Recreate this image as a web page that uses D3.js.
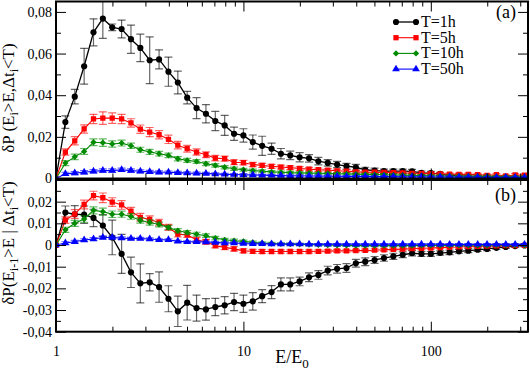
<!DOCTYPE html>
<html>
<head>
<meta charset="utf-8">
<script src="https://cdn.jsdelivr.net/npm/d3@7"></script>
<style>
  body { margin: 0; background: #fff; }
  svg { display: block; }
</style>
</head>
<body>
<div id="chart"></div>
<script>
// E/E0 bin centres (20 per decade)
const energy = [1, 1.122, 1.259, 1.413, 1.585, 1.778, 1.995, 2.239, 2.512, 2.818,
  3.162, 3.548, 3.981, 4.467, 5.012, 5.623, 6.310, 7.079, 7.943, 8.913,
  10, 11.22, 12.59, 14.13, 15.85, 17.78, 19.95, 22.39, 25.12, 28.18,
  31.62, 35.48, 39.81, 44.67, 50.12, 56.23, 63.10, 70.79, 79.43, 89.13,
  100, 112.2, 125.9, 141.3, 158.5, 177.8, 199.5, 223.9, 251.2, 281.8, 316.2];

const seriesNames = ["T=1h", "T=5h", "T=10h", "T=50h"];
const colors = ["#000000", "#ff0000", "#008b00", "#0000ff"];
const symbols = ["circle", "square", "diamond", "triangle"];

// panel (a)
const topT1 = [0, 0.0271, 0.0393, 0.0539, 0.0702, 0.0768, 0.0726, 0.0718, 0.0669, 0.0627,
  0.0568, 0.0572, 0.0513, 0.0461, 0.0388, 0.0338, 0.0311, 0.0276, 0.0255, 0.0215,
  0.0207, 0.0175, 0.0157, 0.0143, 0.0119, 0.0111, 0.0102, 0.0097, 0.0083, 0.0075,
  0.0067, 0.0059, 0.0054, 0.0042, 0.0038, 0.0035, 0.0035, 0.0035, 0.0034, 0.0027,
  0.0026, 0.0022, 0.0014, 0.0014, 0.001, 0.001, 0.001, 0.0006, 0.0004, 0.0003, 0.0002];
const topT1Err = [0, 0.003, 0.0035, 0.0086, 0.0065, 0.0095, 0.0016, 0.0043, 0.0068, 0.0066,
  0.0112, 0.0046, 0.007, 0.0055, 0.003, 0.005, 0.0044, 0.0046, 0.0048, 0.0032,
  0.0032, 0.0034, 0.0046, 0.0027, 0.0025, 0.002, 0.0022, 0.0018, 0.0018, 0.0016,
  0.0015, 0.0014, 0.0014, 0.0012, 0.0012, 0.001, 0.001, 0.001, 0.001, 0.0009,
  0.0008, 0.0008, 0.0007, 0.0007, 0.0006, 0.0006, 0.0005, 0.0005, 0.0005, 0.0004, 0.0004];
const topT5 = [0, 0.0127, 0.0181, 0.0238, 0.0286, 0.029, 0.029, 0.0286, 0.0267, 0.0237,
  0.0223, 0.021, 0.0188, 0.016, 0.0143, 0.0127, 0.0114, 0.0098, 0.0095, 0.0078,
  0.0076, 0.0067, 0.0063, 0.0058, 0.0055, 0.0052, 0.0048, 0.0045, 0.0042, 0.004,
  0.0037, 0.0035, 0.0032, 0.003, 0.003, 0.0029, 0.0028, 0.0027, 0.0025, 0.0024,
  0.0023, 0.0022, 0.0021, 0.002, 0.002, 0.0019, 0.0015, 0.0018, 0.0012, 0.0017, 0.0016];
const topT5Err = [0, 0.0015, 0.002, 0.002, 0.0022, 0.003, 0.0025, 0.0022, 0.002, 0.002,
  0.0022, 0.002, 0.002, 0.0018, 0.0016, 0.0015, 0.0014, 0.0013, 0.0012, 0.0012,
  0.0011, 0.001, 0.001, 0.001, 0.0009, 0.0009, 0.0009, 0.0008, 0.0008, 0.0008,
  0.0008, 0.0007, 0.0007, 0.0007, 0.0007, 0.0006, 0.0006, 0.0006, 0.0006, 0.0006,
  0.0006, 0.0006, 0.0006, 0.0006, 0.0006, 0.0006, 0.0006, 0.0006, 0.0006, 0.0006, 0.0006];
const topT10 = [0, 0.0074, 0.0104, 0.013, 0.0174, 0.0172, 0.0166, 0.017, 0.0157, 0.0138,
  0.0128, 0.0119, 0.0111, 0.0095, 0.0087, 0.0082, 0.0071, 0.0063, 0.0054, 0.0047,
  0.0042, 0.0038, 0.0035, 0.0032, 0.003, 0.0028, 0.0027, 0.0026, 0.0025, 0.0024,
  0.0023, 0.0022, 0.0021, 0.002, 0.0019, 0.0018, 0.0017, 0.0016, 0.0015, 0.0014,
  0.0013, 0.0012, 0.0012, 0.0011, 0.0011, 0.001, 0.001, 0.0009, 0.0009, 0.0008, 0.0008];
const topT10Err = [0, 0.0012, 0.0013, 0.0014, 0.0016, 0.0018, 0.0015, 0.0014, 0.0013, 0.0012,
  0.0012, 0.0011, 0.0011, 0.001, 0.001, 0.0009, 0.0009, 0.0008, 0.0008, 0.0008,
  0.0007, 0.0007, 0.0007, 0.0006, 0.0006, 0.0006, 0.0006, 0.0005, 0.0005, 0.0005,
  0.0005, 0.0005, 0.0005, 0.0005, 0.0005, 0.0005, 0.0005, 0.0005, 0.0005, 0.0005,
  0.0005, 0.0005, 0.0005, 0.0005, 0.0005, 0.0005, 0.0005, 0.0005, 0.0005, 0.0005, 0.0005];
const topT50 = [0, 0.0023, 0.0026, 0.003, 0.0035, 0.0038, 0.0038, 0.0042, 0.0038, 0.0035,
  0.0032, 0.003, 0.003, 0.0028, 0.0026, 0.0025, 0.0024, 0.0022, 0.002, 0.0019,
  0.0018, 0.0017, 0.0016, 0.0015, 0.0014, 0.0013, 0.0013, 0.0012, 0.0012, 0.0011,
  0.0011, 0.001, 0.001, 0.001, 0.0009, 0.0009, 0.0009, 0.0008, 0.0008, 0.0008,
  0.0007, 0.0007, 0.0007, 0.0006, 0.0006, 0.0006, 0.0005, 0.0005, 0.0005, 0.0005, 0.0005];
const topT50Err = [0, 0.0007, 0.0007, 0.0008, 0.0008, 0.0008, 0.0008, 0.0008, 0.0008, 0.0007,
  0.0007, 0.0007, 0.0006, 0.0006, 0.0006, 0.0006, 0.0005, 0.0005, 0.0005, 0.0005,
  0.0005, 0.0004, 0.0004, 0.0004, 0.0004, 0.0004, 0.0004, 0.0004, 0.0004, 0.0004,
  0.0004, 0.0004, 0.0004, 0.0004, 0.0004, 0.0004, 0.0004, 0.0004, 0.0004, 0.0004,
  0.0004, 0.0004, 0.0004, 0.0004, 0.0004, 0.0004, 0.0004, 0.0004, 0.0004, 0.0004, 0.0004];

// panel (b)
const botT1 = [0, 0.015, 0.0142, 0.014, 0.0125, 0.009, 0.0035, -0.0041, -0.0126, -0.0177,
  -0.0172, -0.0194, -0.0248, -0.0306, -0.0266, -0.0291, -0.0297, -0.0286, -0.0278, -0.0263,
  -0.0271, -0.026, -0.0236, -0.0217, -0.0182, -0.0182, -0.0168, -0.0149, -0.0138, -0.0118,
  -0.011, -0.0106, -0.0084, -0.0077, -0.0069, -0.006, -0.0052, -0.0045, -0.0038, -0.0041,
  -0.0041, -0.0037, -0.0034, -0.0029, -0.0026, -0.0022, -0.0018, -0.0013, -0.0009, -0.0005, -0.0002];
const botT1Err = [0, 0.003, 0.004, 0.004, 0.004, 0.005, 0.008, 0.009, 0.007, 0.009,
  0.004, 0.007, 0.006, 0.007, 0.008, 0.006, 0.005, 0.004, 0.004, 0.004,
  0.004, 0.004, 0.003, 0.003, 0.003, 0.003, 0.002, 0.002, 0.002, 0.002,
  0.002, 0.002, 0.0018, 0.0018, 0.0016, 0.0015, 0.0014, 0.0013, 0.0012, 0.0012,
  0.0011, 0.001, 0.001, 0.0009, 0.0009, 0.0008, 0.0008, 0.0007, 0.0007, 0.0006, 0.0006];
const botT5 = [0, 0.0115, 0.0143, 0.0187, 0.0228, 0.0218, 0.0198, 0.0185, 0.0156, 0.0128,
  0.0118, 0.0104, 0.0081, 0.005, 0.0047, 0.0023, 0.0015, -0.0003, -0.0011, -0.0018,
  -0.0027, -0.0029, -0.003, -0.003, -0.003, -0.003, -0.003, -0.003, -0.0029, -0.0028,
  -0.0027, -0.0027, -0.0026, -0.0025, -0.0024, -0.0022, -0.002, -0.0019, -0.0017, -0.0015,
  -0.0014, -0.0012, -0.001, -0.0009, -0.0007, -0.0006, -0.0005, -0.0004, -0.0003, -0.0003, -0.0002];
const botT5Err = [0, 0.0015, 0.002, 0.002, 0.002, 0.0022, 0.002, 0.002, 0.0018, 0.0018,
  0.0016, 0.0015, 0.0014, 0.0013, 0.0012, 0.0012, 0.0011, 0.001, 0.001, 0.001,
  0.0009, 0.0009, 0.0009, 0.0008, 0.0008, 0.0008, 0.0008, 0.0007, 0.0007, 0.0007,
  0.0007, 0.0007, 0.0006, 0.0006, 0.0006, 0.0006, 0.0006, 0.0005, 0.0005, 0.0005,
  0.0005, 0.0005, 0.0005, 0.0005, 0.0005, 0.0005, 0.0005, 0.0005, 0.0005, 0.0005, 0.0005];
const botT10 = [0, 0.007, 0.01, 0.012, 0.016, 0.0154, 0.0142, 0.0142, 0.0132, 0.0113,
  0.0104, 0.0095, 0.0081, 0.0066, 0.0058, 0.005, 0.0043, 0.0032, 0.0024, 0.002,
  0.0017, 0.0012, 0.0009, 0.0007, 0.0005, 0.0004, 0.0003, 0.0002, 0.0001, 0,
  -0.0001, -0.0002, -0.0003, -0.0003, -0.0003, -0.0003, -0.0003, -0.0003, -0.0003, -0.0002,
  -0.0002, -0.0002, -0.0002, -0.0001, -0.0001, -0.0001, -0.0001, 0, 0, 0, 0];
const botT10Err = [0, 0.0012, 0.0014, 0.0015, 0.0016, 0.0016, 0.0015, 0.0014, 0.0013, 0.0012,
  0.0012, 0.0011, 0.001, 0.001, 0.0009, 0.0009, 0.0008, 0.0008, 0.0007, 0.0007,
  0.0006, 0.0006, 0.0006, 0.0005, 0.0005, 0.0005, 0.0005, 0.0005, 0.0004, 0.0004,
  0.0004, 0.0004, 0.0004, 0.0004, 0.0004, 0.0004, 0.0004, 0.0004, 0.0004, 0.0004,
  0.0004, 0.0004, 0.0004, 0.0004, 0.0004, 0.0004, 0.0004, 0.0004, 0.0004, 0.0004, 0.0004];
const botT50 = [0, 0.0009, 0.0015, 0.0023, 0.0028, 0.0035, 0.0035, 0.0032, 0.003, 0.003,
  0.0028, 0.0024, 0.0024, 0.0017, 0.0015, 0.0015, 0.0014, 0.0012, 0.0009, 0.0009,
  0.0007, 0.0006, 0.0006, 0.0005, 0.0005, 0.0005, 0.0005, 0.0004, 0.0004, 0.0004,
  0.0004, 0.0004, 0.0004, 0.0004, 0.0004, 0.0004, 0.0004, 0.0004, 0.0004, 0.0004,
  0.0004, 0.0004, 0.0003, 0.0003, 0.0003, 0.0003, 0.0003, 0.0003, 0.0003, 0.0003, 0.0003];
const botT50Err = [0, 0.0006, 0.0006, 0.0006, 0.0006, 0.0006, 0.0006, 0.0006, 0.0005, 0.0005,
  0.0005, 0.0005, 0.0005, 0.0005, 0.0004, 0.0004, 0.0004, 0.0004, 0.0004, 0.0004,
  0.0004, 0.0004, 0.0004, 0.0003, 0.0003, 0.0003, 0.0003, 0.0003, 0.0003, 0.0003,
  0.0003, 0.0003, 0.0003, 0.0003, 0.0003, 0.0003, 0.0003, 0.0003, 0.0003, 0.0003,
  0.0003, 0.0003, 0.0003, 0.0003, 0.0003, 0.0003, 0.0003, 0.0003, 0.0003, 0.0003, 0.0003];

// ticks
const xMajor = [1, 10, 100];
const xMinor = [2, 3, 4, 5, 6, 7, 8, 9, 20, 30, 40, 50, 60, 70, 80, 90, 200, 300];
const topMajor = [0, 0.02, 0.04, 0.06, 0.08];
const topMinor = [0.01, 0.03, 0.05, 0.07];
const botMajor = [-0.04, -0.03, -0.02, -0.01, 0, 0.01, 0.02];
const botMinor = [-0.035, -0.025, -0.015, -0.005, 0.005, 0.015, 0.025];

const W = 530, H = 372;
const svg = d3.select("#chart").append("svg")
    .attr("width", W)
    .attr("height", H)
    .style("font-family", "'Liberation Serif', 'Times New Roman', serif");

const x = d3.scaleLog().domain([1, 330]).range([56, 528]);
const yTop = d3.scaleLinear().domain([0, 0.085]).range([178.5, 1.5]);
const yBot = d3.scaleLinear().domain([-0.04, 0.03]).range([331.7, 180]);

const fmt = d => d === 0 ? "0" : d3.format(".2f")(d).replace(".", ",").replace("−", "-");

function marker(sel, k, px, py) {
  const sym = symbols[k];
  let p;
  if (sym === "circle") p = d3.symbol(d3.symbolCircle, 30)();
  else if (sym === "square") p = d3.symbol(d3.symbolSquare, 28)();
  else if (sym === "triangle") p = d3.symbol(d3.symbolTriangle, 26)();
  else p = d3.symbol(d3.symbolSquare, 20)();
  sel.append("path")
      .attr("d", p)
      .attr("fill", colors[k])
      .attr("transform", `translate(${px},${py})` + (sym === "diamond" ? " rotate(45)" : ""));
}

function panel(y, seriesVals, seriesErr, major, minor, id, showX) {
  const [y0, y1] = y.range();
  const g = svg.append("g");

  g.append("clipPath").attr("id", id)
    .append("rect")
      .attr("x", x.range()[0]).attr("y", y1)
      .attr("width", x.range()[1] - x.range()[0]).attr("height", y0 - y1);

  const plot = g.append("g").attr("clip-path", `url(#${id})`);
  const line = d3.line().x((d, i) => x(energy[i])).y(d => y(d));

  seriesVals.forEach((vals, k) => {
    const s = plot.append("g");
    const err = seriesErr[k];
    vals.forEach((v, i) => {
      if (!err[i]) return;
      const px = x(energy[i]);
      const eb = s.append("g").attr("stroke", colors[k]).attr("stroke-opacity", 0.6).attr("stroke-width", 1.2);
      eb.append("line").attr("x1", px).attr("x2", px).attr("y1", y(v - err[i])).attr("y2", y(v + err[i]));
      eb.append("line").attr("x1", px - 4).attr("x2", px + 4).attr("y1", y(v - err[i])).attr("y2", y(v - err[i]));
      eb.append("line").attr("x1", px - 4).attr("x2", px + 4).attr("y1", y(v + err[i])).attr("y2", y(v + err[i]));
    });
    s.append("path")
        .attr("d", line(vals))
        .attr("fill", "none")
        .attr("stroke", colors[k])
        .attr("stroke-width", k === 0 ? 1.3 : 1.1);
    vals.forEach((v, i) => marker(s, k, x(energy[i]), y(v)));
  });

  // axes with inward ticks
  const xb = g.append("g").attr("transform", `translate(0,${y0})`);
  xb.call(d3.axisBottom(x).tickValues(minor === null ? [] : xMinor).tickSize(-5).tickFormat(""));
  xb.append("g").call(d3.axisBottom(x).tickValues(xMajor).tickSize(-10).tickPadding(14)
      .tickFormat(showX ? d3.format("d") : ""));
  const xt = g.append("g").attr("transform", `translate(0,${y1})`);
  xt.call(d3.axisTop(x).tickValues(xMinor).tickSize(-5).tickFormat(""));
  xt.append("g").call(d3.axisTop(x).tickValues(xMajor).tickSize(-10).tickFormat(""));

  const yl = g.append("g").attr("transform", `translate(${x.range()[0]},0)`);
  yl.call(d3.axisLeft(y).tickValues(minor).tickSize(-5).tickFormat(""));
  yl.append("g").call(d3.axisLeft(y).tickValues(major).tickSize(-10).tickPadding(4).tickFormat(fmt));
  const yr = g.append("g").attr("transform", `translate(${x.range()[1]},0)`);
  yr.call(d3.axisRight(y).tickValues(minor).tickSize(-5).tickFormat(""));
  yr.append("g").call(d3.axisRight(y).tickValues(major).tickSize(-10).tickFormat(""));

  g.selectAll(".domain").remove();
  g.selectAll(".tick line").attr("stroke", "#000").attr("stroke-width", 1);
  g.selectAll(".tick text").attr("fill", "#000").style("font-size", "14px")
      .style("font-family", "'Liberation Serif', 'Times New Roman', serif");

  g.append("rect")
      .attr("x", x.range()[0]).attr("y", y1)
      .attr("width", x.range()[1] - x.range()[0]).attr("height", y0 - y1)
      .attr("fill", "none").attr("stroke", "#000").attr("stroke-width", 2);
  return g;
}

panel(yTop, [topT1, topT5, topT10, topT50], [topT1Err, topT5Err, topT10Err, topT50Err],
  topMajor, topMinor, "clipA", false);
panel(yBot, [botT1, botT5, botT10, botT50], [botT1Err, botT5Err, botT10Err, botT50Err],
  botMajor, botMinor, "clipB", true);

// panel tags
svg.append("text").attr("x", 516).attr("y", 18).attr("text-anchor", "end")
    .style("font-size", "18px").text("(a)");
svg.append("text").attr("x", 516).attr("y", 201).attr("text-anchor", "end")
    .style("font-size", "18px").text("(b)");

// legend
const legend = svg.append("g");
seriesNames.forEach((name, k) => {
  const ly = 22 + k * 15.7;
  legend.append("line").attr("x1", 396).attr("x2", 416).attr("y1", ly).attr("y2", ly)
      .attr("stroke", colors[k]).attr("stroke-width", k === 0 ? 1.3 : 1.1);
  marker(legend, k, 396, ly);
  marker(legend, k, 416, ly);
  legend.append("text").attr("x", 421).attr("y", ly + 5)
      .style("font-size", "16px").text(name);
});

// axis titles
const xt = svg.append("text").attr("x", 292).attr("y", 363).attr("text-anchor", "middle")
    .style("font-size", "18px");
xt.append("tspan").text("E/E");
xt.append("tspan").attr("dy", 5).style("font-size", "13px").text("0");

function yTitle(cx, cy, parts) {
  const t = svg.append("text")
      .attr("transform", `translate(${cx},${cy}) rotate(-90)`)
      .attr("text-anchor", "middle")
      .style("font-size", "17px");
  parts.forEach(([txt, sub]) => {
    t.append("tspan")
        .attr("dy", sub ? 4 : (t.selectAll("tspan").size() ? -4 : 0))
        .style("font-size", sub ? "12px" : "17px")
        .text(txt);
  });
}
yTitle(18, 98, [["δP (E", false], ["i", true], [">E,Δt", false], ["i", true], ["<T)", false]]);
yTitle(18, 243, [["δP(E", false], ["i-1", true], [">E | Δt", false], ["i", true], ["<T)", false]]);
</script>
</body>
</html>
